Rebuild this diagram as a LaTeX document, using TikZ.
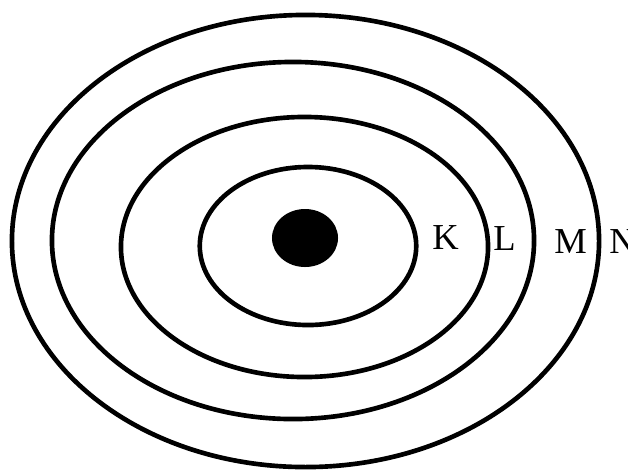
\documentclass[tikz,border=0pt]{standalone}
\usepackage{fontspec}
\setmainfont{Liberation Serif}
\usetikzlibrary{shapes.geometric, positioning}

\begin{document}
\begin{tikzpicture}[x=0.025cm, y=-0.025cm,
  orbit/.style={draw, ellipse, line width=3.3pt, inner sep=0pt},
  shell/.style={anchor=base west, inner sep=0pt, font=\fontsize{26}{30}\selectfont}]
  \useasboundingbox (0,0) rectangle (628,469);
  % Shells
  \node[orbit, minimum width=14.675cm, minimum height=11.3cm] (orbN) at (305.5,241) {};
  \node[orbit, minimum width=12.05cm, minimum height=8.925cm] (orbM) at (293,240.5) {};
  \node[orbit, minimum width=9.175cm, minimum height=6.5cm] (orbL) at (304.5,247) {};
  \node[orbit, minimum width=5.41cm, minimum height=3.95cm] (orbK) at (308,246) {};
  % Nucleus
  \node[ellipse, fill=black, inner sep=0pt, minimum width=1.65cm, minimum height=1.45cm] (nucleus) at (305,238) {};
  % Labels
  \node[shell] (labK) at (432,249) {K};
  \node[shell] (labL) at (493,250) {L};
  \node[shell] (labM) at (554,253) {M};
  \node[shell] (labN) at (609,253) {N};
\end{tikzpicture}
\end{document}
